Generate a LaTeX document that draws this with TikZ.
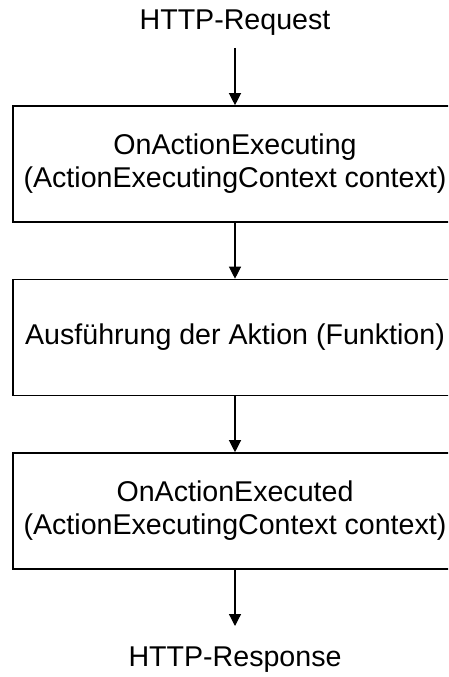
\documentclass[tikz,border=0pt]{standalone}
\usepackage{fontspec}
\setmainfont{Liberation Sans}
\usetikzlibrary{arrows.meta}
\begin{document}
\begin{tikzpicture}[x=1pt,y=-1pt,
  lbl/.style={inner sep=0pt,align=center,font=\fontsize{28.6}{33}\selectfont},
  stagebox/.style={draw=black,line width=1.6pt,minimum width=444pt,minimum height=116pt,
    inner sep=0pt,align=center,font=\fontsize{28.6}{33}\selectfont},
  flow/.style={line width=1.2pt,-{Triangle[length=12pt,width=12pt]}}]
  \useasboundingbox (0,0) rectangle (448,677);
  \clip (0,0) rectangle (448,677);
  \fill[white] (0,0) rectangle (448,677);

  \node[lbl] (req) at (235,23) {HTTP-Request};
  \node[stagebox] (pre) at (235,164) {OnActionExecuting\\(ActionExecutingContext context)};
  \node[stagebox] (act) at (235,337.5) {Ausführung der Aktion (Funktion)};
  \node[stagebox] (post) at (235,511) {OnActionExecuted\\(ActionExecutingContext context)};
  \node[lbl] (resp) at (235,660) {HTTP-Response};

  \coordinate (reqout) at (235,48);
  \coordinate (respin) at (235,626);

  \draw[flow] (reqout) -- (pre.north);
  \draw[flow] (pre.south) -- (act.north);
  \draw[flow] (act.south) -- (post.north);
  \draw[flow] (post.south) -- (respin);
\end{tikzpicture}
\end{document}
